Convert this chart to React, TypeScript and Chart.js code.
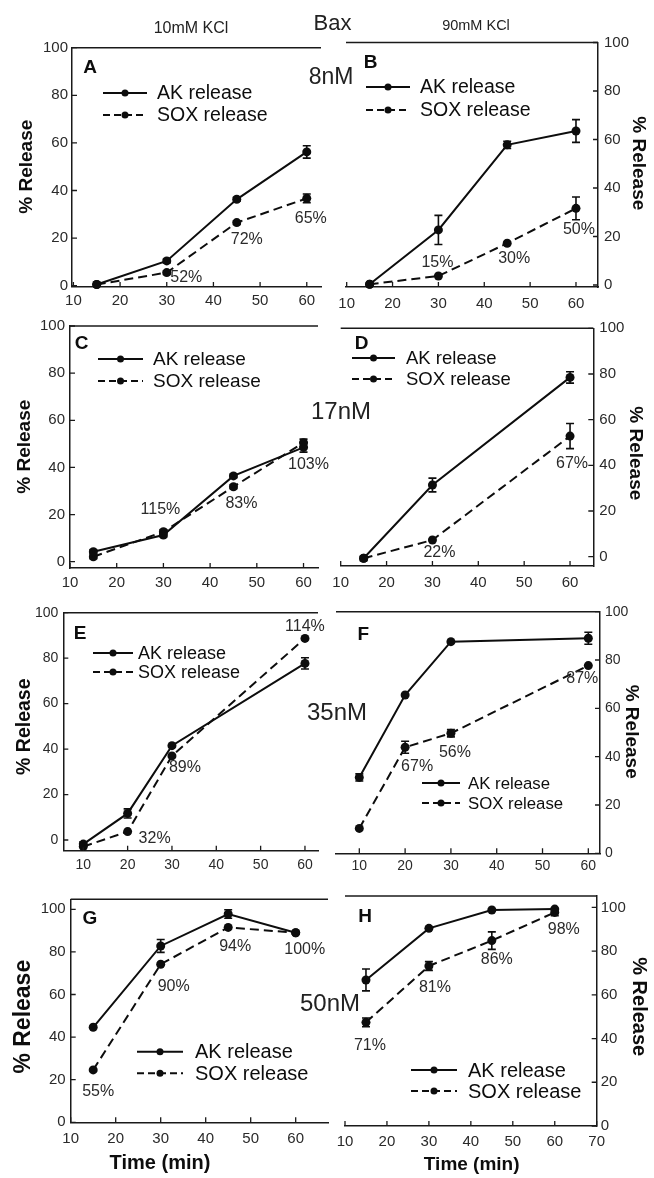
import React, { useEffect, useRef } from "react";
import { Chart, registerables } from "chart.js";
Chart.register(...registerables);

const FONT = '"Liberation Sans", Arial, Helvetica, sans-serif';

// ---------- DATA ----------
const SERIES_LABELS = ["AK release", "SOX release"];
const Y_TICKS = [0, 20, 40, 60, 80, 100];
const X_TICKS_60 = [10, 20, 30, 40, 50, 60];
const X_TICKS_70 = [10, 20, 30, 40, 50, 60, 70];

const A_TIME = [15, 30, 45, 60];
const A_AK = [0.5, 10.4, 36.3, 56.2];
const A_AK_ERR = [0, 0.8, 0.8, 2.6];
const A_SOX = [0.5, 5.5, 26.5, 36.7];
const A_SOX_ERR = [0, 0.8, 0.8, 1.8];
const A_PCT = ["", "52%", "72%", "65%"];

const B_TIME = [15, 30, 45, 60];
const B_AK = [0.3, 22.7, 57.8, 63.5];
const B_AK_ERR = [0, 6, 1.5, 4.7];
const B_SOX = [0.3, 3.7, 17.2, 31.6];
const B_SOX_ERR = [0, 0, 0, 4.7];
const B_PCT = ["", "15%", "30%", "50%"];

const C_TIME = [15, 30, 45, 60];
const C_AK = [4.2, 11.3, 36.4, 48.5];
const C_AK_ERR = [0.8, 0.8, 0.8, 2];
const C_SOX = [2.1, 12.7, 31.8, 50.5];
const C_SOX_ERR = [0.8, 0.8, 0.8, 1.5];
const C_PCT = ["", "115%", "83%", "103%"];

const D_TIME = [15, 30, 60];
const D_AK = [-0.7, 31.4, 78.5];
const D_AK_ERR = [1, 3, 2.5];
const D_SOX = [-0.7, 7.3, 52.8];
const D_SOX_ERR = [0, 0, 5.5];
const D_PCT = ["", "22%", "67%"];

const E_TIME = [10, 20, 30, 60];
const E_AK = [-1.8, 11.7, 41.5, 77.7];
const E_AK_ERR = [1, 2, 0, 2.5];
const E_SOX = [-2.9, 3.7, 37, 88.7];
const E_SOX_ERR = [0, 0, 0, 0];
const E_PCT = ["", "32%", "89%", "114%"];

const F_TIME = [10, 20, 30, 60];
const F_AK = [31.4, 65.5, 87.6, 89];
const F_AK_ERR = [1.5, 0, 0, 2.5];
const F_SOX = [10.3, 43.9, 49.7, 77.7];
const F_SOX_ERR = [0, 2.5, 1.5, 0];
const F_PCT = ["", "67%", "56%", "87%"];

const G_TIME = [15, 30, 45, 60];
const G_AK = [44.6, 82.8, 97.8, 89];
const G_AK_ERR = [0, 3, 2, 0];
const G_SOX = [24.6, 74.2, 91.5, 89];
const G_SOX_ERR = [0, 0, 0, 0];
const G_PCT = ["55%", "90%", "94%", "100%"];

const H_TIME = [15, 30, 45, 60];
const H_AK = [66.8, 90.4, 98.8, 99.2];
const H_AK_ERR = [5, 0, 0, 0];
const H_SOX = [47.4, 73.2, 84.8, 97.7];
const H_SOX_ERR = [2, 2, 4, 1.5];
const H_PCT = ["71%", "81%", "86%", "98%"];

const HEADER_TEXT = ["Bax", "10mM KCl", "90mM KCl"];
const CONC_LABELS = ["8nM", "17nM", "35nM", "50nM"];
const Y_TITLE = "% Release";
const X_TITLE = "Time (min)";

// ---------- LAYOUT (positions / styles) ----------
type Layout = {
  letter: string;
  side: "left" | "right";
  area: [number, number, number, number];
  xr: [number, number];
  yr: [number, number];
  xTickPad: number;
  yTickPad: number;
  tickSize: number;
  letterPos: [number, number];
  legend: { x0: number; x1: number; tx: number; y1: number; y2: number; size: number };
  pctOff: ([number, number] | null)[];
  yTitle: { x: number; y: number; size: number };
  xTitle?: { x: number; y: number; size: number };
};

type Panel = {
  time: number[];
  ak: number[];
  akErr: number[];
  sox: number[];
  soxErr: number[];
  pct: string[];
  xTicks: number[];
  lay: Layout;
};

const PANELS: Panel[] = [
  {
    time: A_TIME, ak: A_AK, akErr: A_AK_ERR, sox: A_SOX, soxErr: A_SOX_ERR, pct: A_PCT, xTicks: X_TICKS_60,
    lay: {
      letter: "A", side: "left", area: [72, 47.7, 321, 287], xr: [9.7, 63.05], yr: [-0.55, 100],
      xTickPad: 5, yTickPad: 4, tickSize: 15, letterPos: [90, 68],
      legend: { x0: 103, x1: 147, tx: 157, y1: 93, y2: 115, size: 19.5 },
      pctOff: [null, [19.5, 5], [10, 17], [4, 20]],
      yTitle: { x: 26.7, y: 166.7, size: 19 },
    },
  },
  {
    time: B_TIME, ak: B_AK, akErr: B_AK_ERR, sox: B_SOX, soxErr: B_SOX_ERR, pct: B_PCT, xTicks: X_TICKS_60,
    lay: {
      letter: "B", side: "right", area: [346, 42.5, 598, 287], xr: [9.85, 64.8], yr: [-0.83, 100],
      xTickPad: 8, yTickPad: 6, tickSize: 15, letterPos: [370.5, 62.5],
      legend: { x0: 366, x1: 410, tx: 420, y1: 87, y2: 110, size: 19.5 },
      pctOff: [null, [-1, -13], [7, 15], [3, 21]],
      yTitle: { x: 638.3, y: 163.3, size: 19 },
    },
  },
  {
    time: C_TIME, ak: C_AK, akErr: C_AK_ERR, sox: C_SOX, soxErr: C_SOX_ERR, pct: C_PCT, xTicks: X_TICKS_60,
    lay: {
      letter: "C", side: "left", area: [70, 326, 318, 568], xr: [10, 63.1], yr: [-2.67, 100],
      xTickPad: 6, yTickPad: 5, tickSize: 15, letterPos: [81.7, 343.3],
      legend: { x0: 98, x1: 143, tx: 153, y1: 359, y2: 381, size: 19 },
      pctOff: [null, [-3, -22], [8, 17], [5, 22]],
      yTitle: { x: 25, y: 446.7, size: 19 },
    },
  },
  {
    time: D_TIME, ak: D_AK, akErr: D_AK_ERR, sox: D_SOX, soxErr: D_SOX_ERR, pct: D_PCT, xTicks: X_TICKS_60,
    lay: {
      letter: "D", side: "right", area: [340.7, 328.3, 593.3, 566], xr: [10, 65.07], yr: [-4.07, 100],
      xTickPad: 8, yTickPad: 6, tickSize: 15, letterPos: [361.7, 343.3],
      legend: { x0: 352, x1: 395, tx: 406, y1: 358, y2: 379, size: 18.5 },
      pctOff: [null, [7, 13], [2, 27]],
      yTitle: { x: 635, y: 453.3, size: 19 },
    },
  },
  {
    time: E_TIME, ak: E_AK, akErr: E_AK_ERR, sox: E_SOX, soxErr: E_SOX_ERR, pct: E_PCT, xTicks: X_TICKS_60,
    lay: {
      letter: "E", side: "left", area: [63.3, 612.7, 318, 850.7], xr: [5.49, 62.94], yr: [-4.7, 100],
      xTickPad: 6, yTickPad: 5, tickSize: 14, letterPos: [80, 633.3],
      legend: { x0: 93, x1: 133, tx: 138, y1: 653, y2: 672, size: 18 },
      pctOff: [null, [27, 7], [13, 12], [0, -12]],
      yTitle: { x: 25, y: 726.7, size: 19.5 },
    },
  },
  {
    time: F_TIME, ak: F_AK, akErr: F_AK_ERR, sox: F_SOX, soxErr: F_SOX_ERR, pct: F_PCT, xTicks: X_TICKS_60,
    lay: {
      letter: "F", side: "right", area: [336, 611.7, 600, 853.3], xr: [4.91, 62.55], yr: [0, 100],
      xTickPad: 4, yTickPad: 5, tickSize: 14, letterPos: [363.3, 635],
      legend: { x0: 422, x1: 460, tx: 468, y1: 783, y2: 803, size: 16.8 },
      pctOff: [null, [12, 19], [4, 19], [-6, 13]],
      yTitle: { x: 631.7, y: 731.7, size: 19 },
    },
  },
  {
    time: G_TIME, ak: G_AK, akErr: G_AK_ERR, sox: G_SOX, soxErr: G_SOX_ERR, pct: G_PCT, xTicks: X_TICKS_60,
    lay: {
      letter: "G", side: "left", area: [70.7, 899.3, 328, 1122.3], xr: [10, 67.18], yr: [0, 104.7],
      xTickPad: 8, yTickPad: 5, tickSize: 15, letterPos: [90, 918.3],
      legend: { x0: 137, x1: 183, tx: 195, y1: 1051.7, y2: 1073.3, size: 20 },
      pctOff: [[5, 22], [13, 22], [7, 19], [9, 17]],
      yTitle: { x: 23.3, y: 1016.7, size: 23 },
      xTitle: { x: 160, y: 1163, size: 20 },
    },
  },
  {
    time: H_TIME, ak: H_AK, akErr: H_AK_ERR, sox: H_SOX, soxErr: H_SOX_ERR, pct: H_PCT, xTicks: X_TICKS_70,
    lay: {
      letter: "H", side: "right", area: [345, 896, 596.7, 1126], xr: [10, 70], yr: [0, 105.2],
      xTickPad: 7, yTickPad: 4, tickSize: 15, letterPos: [365, 916.7],
      legend: { x0: 411, x1: 457, tx: 468, y1: 1070, y2: 1091, size: 20 },
      pctOff: [[4, 23], [6, 22], [5, 19], [9, 17]],
      yTitle: { x: 638.3, y: 1006.7, size: 20 },
      xTitle: { x: 471.7, y: 1165, size: 19 },
    },
  },
];

const W = 654;
const H = 1178;
const Y_AXIS_W = 40;
const X_AXIS_H = 30;
const INK = "#0d0d0d";
const AXIS = "#1a1a1a";
const DASH = [9, 5];

function decoPlugin(p: Panel) {
  return {
    id: "deco" + p.lay.letter,
    afterDraw(chart: any) {
      const ctx = chart.ctx as CanvasRenderingContext2D;
      const { left, right, top, bottom } = chart.chartArea;
      const xs = chart.scales.x;
      const ys = chart.scales.y;
      const L = p.lay;
      ctx.save();
      // top frame line
      ctx.strokeStyle = AXIS;
      ctx.lineWidth = 1.5;
      ctx.beginPath();
      ctx.moveTo(left, top);
      ctx.lineTo(right, top);
      ctx.stroke();
      // inward ticks
      ctx.lineWidth = 1.3;
      ctx.beginPath();
      p.xTicks.forEach((v) => {
        const px = xs.getPixelForValue(v);
        ctx.moveTo(px, bottom);
        ctx.lineTo(px, bottom - 5);
      });
      Y_TICKS.forEach((v) => {
        const py = ys.getPixelForValue(v);
        if (L.side === "left") {
          ctx.moveTo(left, py);
          ctx.lineTo(left + 5, py);
        } else {
          ctx.moveTo(right, py);
          ctx.lineTo(right - 5, py);
        }
      });
      ctx.stroke();
      // error bars
      ctx.strokeStyle = INK;
      ctx.lineWidth = 1.6;
      const errs = [p.akErr, p.soxErr];
      const vals = [p.ak, p.sox];
      ctx.beginPath();
      for (let d = 0; d < 2; d++) {
        p.time.forEach((t, i) => {
          const e = errs[d][i];
          if (!e) return;
          const px = xs.getPixelForValue(t);
          const y1 = ys.getPixelForValue(vals[d][i] + e);
          const y2 = ys.getPixelForValue(vals[d][i] - e);
          ctx.moveTo(px, y1);
          ctx.lineTo(px, y2);
          ctx.moveTo(px - 4, y1);
          ctx.lineTo(px + 4, y1);
          ctx.moveTo(px - 4, y2);
          ctx.lineTo(px + 4, y2);
        });
      }
      ctx.stroke();
      // percent labels
      ctx.fillStyle = "#2a2a2a";
      ctx.font = `16px ${FONT}`;
      ctx.textAlign = "center";
      ctx.textBaseline = "middle";
      p.pct.forEach((s, i) => {
        const off = L.pctOff[i];
        if (!s || !off) return;
        const px = xs.getPixelForValue(p.time[i]);
        const py = ys.getPixelForValue(p.sox[i]);
        ctx.fillText(s, px + off[0], py + off[1]);
      });
      // panel letter
      ctx.fillStyle = INK;
      ctx.font = `bold 19px ${FONT}`;
      ctx.fillText(L.letter, L.letterPos[0], L.letterPos[1]);
      // legend
      const lg = L.legend;
      [lg.y1, lg.y2].forEach((yy, k) => {
        ctx.strokeStyle = INK;
        ctx.lineWidth = 2;
        ctx.setLineDash(k === 1 ? [7, 4] : []);
        ctx.beginPath();
        ctx.moveTo(lg.x0, yy);
        ctx.lineTo(lg.x1, yy);
        ctx.stroke();
        ctx.setLineDash([]);
        ctx.beginPath();
        ctx.arc((lg.x0 + lg.x1) / 2, yy, 3.5, 0, Math.PI * 2);
        ctx.fill();
        ctx.font = `${lg.size}px ${FONT}`;
        ctx.textAlign = "left";
        ctx.fillText(chart.data.datasets[k].label, lg.tx, yy + 1);
      });
      // axis titles
      const yt = L.yTitle;
      ctx.font = `bold ${yt.size}px ${FONT}`;
      ctx.textAlign = "center";
      ctx.save();
      ctx.translate(yt.x, yt.y);
      ctx.rotate(L.side === "left" ? -Math.PI / 2 : Math.PI / 2);
      ctx.fillText(Y_TITLE, 0, 0);
      ctx.restore();
      if (L.xTitle) {
        ctx.font = `bold ${L.xTitle.size}px ${FONT}`;
        ctx.fillText(X_TITLE, L.xTitle.x, L.xTitle.y);
      }
      ctx.restore();
    },
  };
}

function makeChart(canvas: HTMLCanvasElement, p: Panel) {
  const L = p.lay;
  const [l, t, r, b] = L.area;
  const padding =
    L.side === "left"
      ? { left: l - Y_AXIS_W, right: W - r, top: t, bottom: H - b - X_AXIS_H }
      : { left: l, right: W - r - Y_AXIS_W, top: t, bottom: H - b - X_AXIS_H };
  const mk = (vals: number[]) => p.time.map((x, i) => ({ x, y: vals[i] }));
  const common = {
    borderColor: INK,
    backgroundColor: INK,
    borderWidth: 2,
    pointRadius: 4.5,
    pointHoverRadius: 4.5,
    pointBackgroundColor: INK,
    pointBorderWidth: 0,
    tension: 0,
    clip: false as any,
  };
  return new Chart(canvas, {
    type: "line",
    data: {
      datasets: [
        { ...common, label: SERIES_LABELS[0], data: mk(p.ak) },
        { ...common, label: SERIES_LABELS[1], data: mk(p.sox), borderDash: DASH },
      ],
    },
    options: {
      responsive: false,
      animation: false,
      events: [],
      layout: { padding },
      plugins: { legend: { display: false }, tooltip: { enabled: false } },
      scales: {
        x: {
          type: "linear",
          position: "bottom",
          min: L.xr[0],
          max: L.xr[1],
          afterFit: (s: any) => {
            s.height = X_AXIS_H;
          },
          afterBuildTicks: (s: any) => {
            s.ticks = p.xTicks.map((v) => ({ value: v }));
          },
          grid: { display: false, drawTicks: false },
          border: { display: true, color: AXIS, width: 1.5 },
          ticks: {
            color: "#2a2a2a",
            font: { family: FONT, size: L.tickSize },
            padding: L.xTickPad,
            maxRotation: 0,
            autoSkip: false,
            includeBounds: false,
          },
        },
        y: {
          type: "linear",
          position: L.side,
          min: L.yr[0],
          max: L.yr[1],
          afterFit: (s: any) => {
            s.width = Y_AXIS_W;
          },
          afterBuildTicks: (s: any) => {
            s.ticks = Y_TICKS.map((v) => ({ value: v }));
          },
          grid: { display: false, drawTicks: false },
          border: { display: true, color: AXIS, width: 1.5 },
          ticks: {
            color: "#2a2a2a",
            font: { family: FONT, size: L.tickSize },
            padding: L.yTickPad,
            autoSkip: false,
            includeBounds: false,
          },
        },
      },
    } as any,
    plugins: [decoPlugin(p)],
  });
}

function PanelChart({ panel }: { panel: Panel }) {
  const ref = useRef<HTMLCanvasElement>(null);
  useEffect(() => {
    const c = makeChart(ref.current as HTMLCanvasElement, panel);
    return () => c.destroy();
  }, [panel]);
  return (
    <canvas
      ref={ref}
      width={W}
      height={H}
      style={{ position: "absolute", left: 0, top: 0, width: W, height: H }}
    />
  );
}

const TEXT_POS: { text: string; x: number; y: number; size: number }[] = [
  { text: HEADER_TEXT[0], x: 332.5, y: 22.5, size: 22 },
  { text: HEADER_TEXT[1], x: 191, y: 28, size: 16 },
  { text: HEADER_TEXT[2], x: 476, y: 25, size: 14.5 },
  { text: CONC_LABELS[0], x: 331, y: 76, size: 23 },
  { text: CONC_LABELS[1], x: 341, y: 410.5, size: 24 },
  { text: CONC_LABELS[2], x: 337, y: 711.7, size: 24 },
  { text: CONC_LABELS[3], x: 330, y: 1003.3, size: 24 },
];

export default function App() {
  return (
    <div
      style={{
        position: "absolute",
        left: 0,
        top: 0,
        width: W,
        height: H,
        background: "#fff",
        overflow: "hidden",
        fontFamily: FONT,
      }}
    >
      {PANELS.map((p) => (
        <PanelChart key={p.lay.letter} panel={p} />
      ))}
      {TEXT_POS.map((t) => (
        <div
          key={t.text}
          style={{
            position: "absolute",
            left: t.x,
            top: t.y,
            transform: "translate(-50%, -50%)",
            fontSize: t.size,
            lineHeight: 1,
            whiteSpace: "nowrap",
            color: "#222",
          }}
        >
          {t.text}
        </div>
      ))}
    </div>
  );
}
